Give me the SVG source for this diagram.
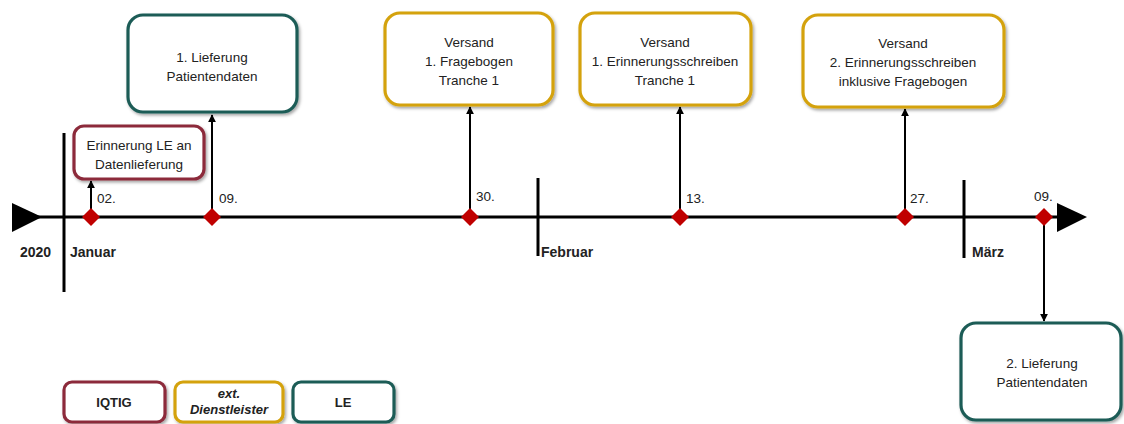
<svg xmlns="http://www.w3.org/2000/svg" width="1124" height="424" viewBox="0 0 1124 424">
  <defs>
    <filter id="shadow" x="-10%" y="-10%" width="125%" height="130%">
      <feDropShadow dx="1.5" dy="2" stdDeviation="1.5" flood-color="#000" flood-opacity="0.35"/>
    </filter>
    <marker id="arrow" viewBox="0 0 10 10" refX="9" refY="5" markerWidth="4" markerHeight="4" orient="auto">
      <path d="M0,0 L10,5 L0,10 z" fill="#000"/>
    </marker>
    <style>
      text { font-family: "Liberation Sans", Arial, sans-serif; font-size: 13.5px; fill: #222; }
      .box { fill: #fff; stroke-width: 3.2; filter: url(#shadow); }
      .iqtig { stroke: #8C2A3A; }
      .ext { stroke: #D4A20C; }
      .le { stroke: #1C5C57; }
      .c { text-anchor: middle; }
      .b { font-weight: bold; font-size: 14px; }
      .lg { font-weight: bold; font-size: 13px; }
      .bi { font-weight: bold; font-style: italic; font-size: 13px; }
      .axis { stroke: #000; stroke-width: 3; fill: none; }
      .tick { stroke: #000; stroke-width: 3; }
      .link { stroke: #000; stroke-width: 2; fill: none; marker-end: url(#arrow); }
      .mark { fill: #C00000; }
    </style>
  </defs>

  <!-- time axis with month ticks -->
  <g id="axis">
    <line class="axis" x1="30" y1="217" x2="1070" y2="217"/>
    <polygon points="12,203 42,217 12,232" fill="#000"/>
    <polygon points="1057,203 1087,217 1057,232" fill="#000"/>
    <line class="tick" x1="64" y1="133" x2="64" y2="292"/>
    <line class="tick" x1="538" y1="178" x2="538" y2="256"/>
    <line class="tick" x1="964" y1="180" x2="964" y2="258"/>
    <text class="b" x="20" y="257">2020</text>
    <text class="b" x="70" y="257">Januar</text>
    <text class="b" x="541" y="257">Februar</text>
    <text class="b" x="972" y="257">März</text>
  </g>

  <!-- connectors from dates to events -->
  <g id="connectors">
    <line class="link" x1="91" y1="215" x2="91" y2="181"/>
    <line class="link" x1="212" y1="215" x2="212" y2="115"/>
    <line class="link" x1="470" y1="215" x2="470" y2="107"/>
    <line class="link" x1="680" y1="215" x2="680" y2="107"/>
    <line class="link" x1="905" y1="215" x2="905" y2="109"/>
    <line class="link" x1="1044" y1="219" x2="1044" y2="321"/>
  </g>

  <!-- date markers -->
  <g id="dates">
    <polygon class="mark" points="91,208 100,217 91,226 82,217"/>
    <polygon class="mark" points="212,208 221,217 212,226 203,217"/>
    <polygon class="mark" points="470,208 479,217 470,226 461,217"/>
    <polygon class="mark" points="680,208 689,217 680,226 671,217"/>
    <polygon class="mark" points="905,208 914,217 905,226 896,217"/>
    <polygon class="mark" points="1044,208 1053,217 1044,226 1035,217"/>
    <text x="97" y="203">02.</text>
    <text x="219" y="203">09.</text>
    <text x="476" y="201">30.</text>
    <text x="686" y="203">13.</text>
    <text x="910" y="203">27.</text>
    <text x="1034" y="201">09.</text>
  </g>

  <g id="erinnerung-le">
    <rect class="box iqtig" x="74" y="126" width="130" height="53" rx="10"/>
    <text class="c" x="139" y="150">Erinnerung LE an</text>
    <text class="c" x="139" y="169">Datenlieferung</text>
  </g>

  <g id="lieferung-1">
    <rect class="box le" x="128" y="15" width="169" height="97" rx="15"/>
    <text class="c" x="212" y="62">1. Lieferung</text>
    <text class="c" x="212" y="81">Patientendaten</text>
  </g>

  <g id="versand-fragebogen">
    <rect class="box ext" x="385" y="13" width="168" height="92" rx="15"/>
    <text class="c" x="469" y="47">Versand</text>
    <text class="c" x="469" y="66">1. Fragebogen</text>
    <text class="c" x="469" y="85">Tranche 1</text>
  </g>

  <g id="versand-erinnerung-1">
    <rect class="box ext" x="580" y="13" width="171" height="92" rx="15"/>
    <text class="c" x="665" y="47">Versand</text>
    <text class="c" x="665" y="66">1. Erinnerungsschreiben</text>
    <text class="c" x="665" y="85">Tranche 1</text>
  </g>

  <g id="versand-erinnerung-2">
    <rect class="box ext" x="803" y="15" width="201" height="92" rx="15"/>
    <text class="c" x="903" y="48">Versand</text>
    <text class="c" x="903" y="67">2. Erinnerungsschreiben</text>
    <text class="c" x="903" y="86">inklusive Fragebogen</text>
  </g>

  <g id="lieferung-2">
    <rect class="box le" x="961" y="323" width="160" height="97" rx="15"/>
    <text class="c" x="1042" y="368">2. Lieferung</text>
    <text class="c" x="1042" y="387">Patientendaten</text>
  </g>

  <!-- legend -->
  <g id="legend-iqtig">
    <rect class="box iqtig" x="64" y="382" width="101" height="40" rx="8"/>
    <text class="c lg" x="114" y="407">IQTIG</text>
  </g>
  <g id="legend-ext">
    <rect class="box ext" x="175" y="382" width="108" height="40" rx="8"/>
    <text class="c bi" x="229" y="398">ext.</text>
    <text class="c bi" x="229" y="414">Dienstleister</text>
  </g>
  <g id="legend-le">
    <rect class="box le" x="293" y="382" width="101" height="40" rx="8"/>
    <text class="c lg" x="343" y="407">LE</text>
  </g>
</svg>
